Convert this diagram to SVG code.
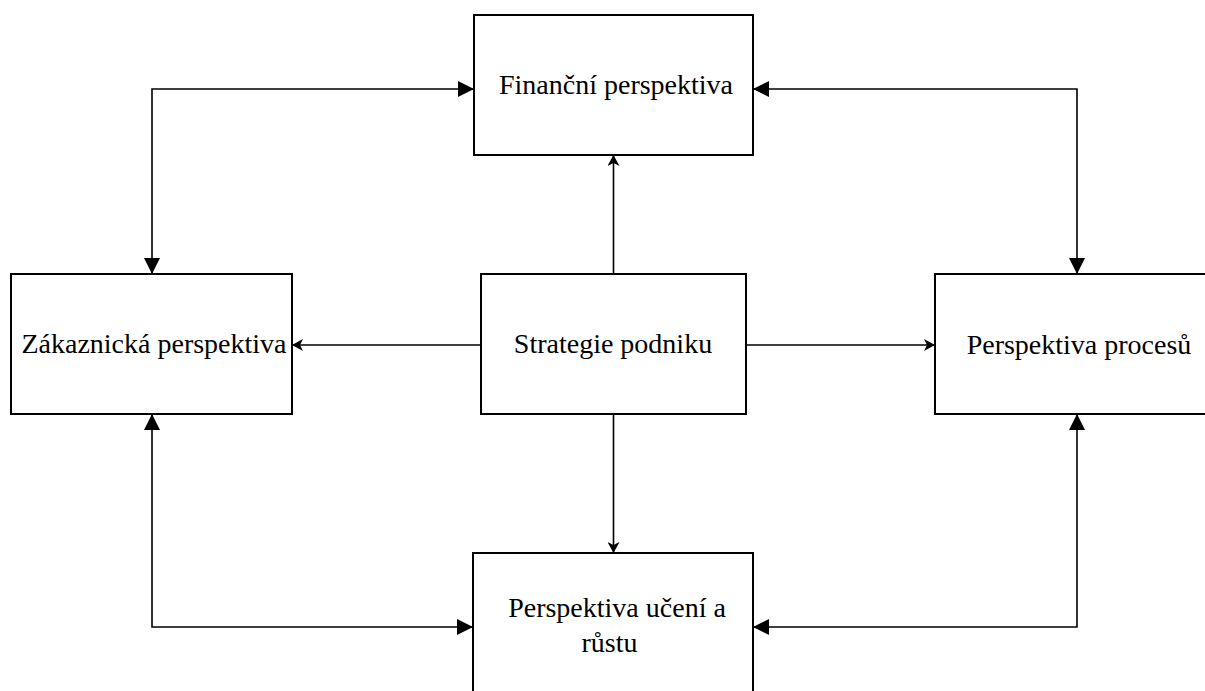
<svg xmlns="http://www.w3.org/2000/svg" width="1205" height="691" viewBox="0 0 1205 691">
  <style>
    .box { fill: #ffffff; stroke: #000000; stroke-width: 2; }
    .lbl { font-family: "Liberation Serif", "Times New Roman", serif; font-size: 28px; fill: #000000; text-anchor: middle; }
    .link { fill: none; stroke: #000000; stroke-width: 1.6; }
    .both { marker-start: url(#tri); marker-end: url(#tri); }
    .out { marker-end: url(#barb); }
  </style>
  <defs>
    <marker id="tri" markerUnits="userSpaceOnUse" markerWidth="16" markerHeight="16" refX="16" refY="8" orient="auto-start-reverse" viewBox="0 0 16 16">
      <path d="M0,0 L16,8 L0,16 Z" fill="#000000"/>
    </marker>
    <marker id="barb" markerUnits="userSpaceOnUse" markerWidth="12" markerHeight="12" refX="11" refY="6" orient="auto" viewBox="0 0 12 12">
      <path d="M0,0 L11,6 L0,12 L3,6 Z" fill="#000000"/>
    </marker>
  </defs>

  <g id="connectors">
    <!-- corner links between the outer perspectives -->
    <path class="link both" d="M474,89 H152 V274"/>
    <path class="link both" d="M753,89 H1077 V274"/>
    <path class="link both" d="M152,414 V627 H473"/>
    <path class="link both" d="M1077,414 V627 H753"/>
    <!-- strategy feeding each perspective -->
    <path class="link out" d="M613.5,274 V155"/>
    <path class="link out" d="M481,345 H292"/>
    <path class="link out" d="M746,345 H935"/>
    <path class="link out" d="M613.5,414 V553"/>
  </g>

  <g id="financni">
    <rect class="box" x="474" y="15" width="279" height="140"/>
    <text class="lbl" x="616" y="94">Finanční perspektiva</text>
  </g>

  <g id="zakaznicka">
    <rect class="box" x="11" y="274" width="281" height="140"/>
    <text class="lbl" x="154" y="353">Zákaznická perspektiva</text>
  </g>

  <g id="strategie">
    <rect class="box" x="481" y="274" width="265" height="140"/>
    <text class="lbl" x="613" y="353">Strategie podniku</text>
  </g>

  <g id="procesy">
    <rect class="box" x="935" y="274" width="290" height="140"/>
    <text class="lbl" x="1079" y="354">Perspektiva procesů</text>
  </g>

  <g id="uceni">
    <rect class="box" x="473" y="553" width="280" height="160"/>
    <text class="lbl" x="617" y="617">Perspektiva učení a</text>
    <text class="lbl" x="609.5" y="652">růstu</text>
  </g>
</svg>
